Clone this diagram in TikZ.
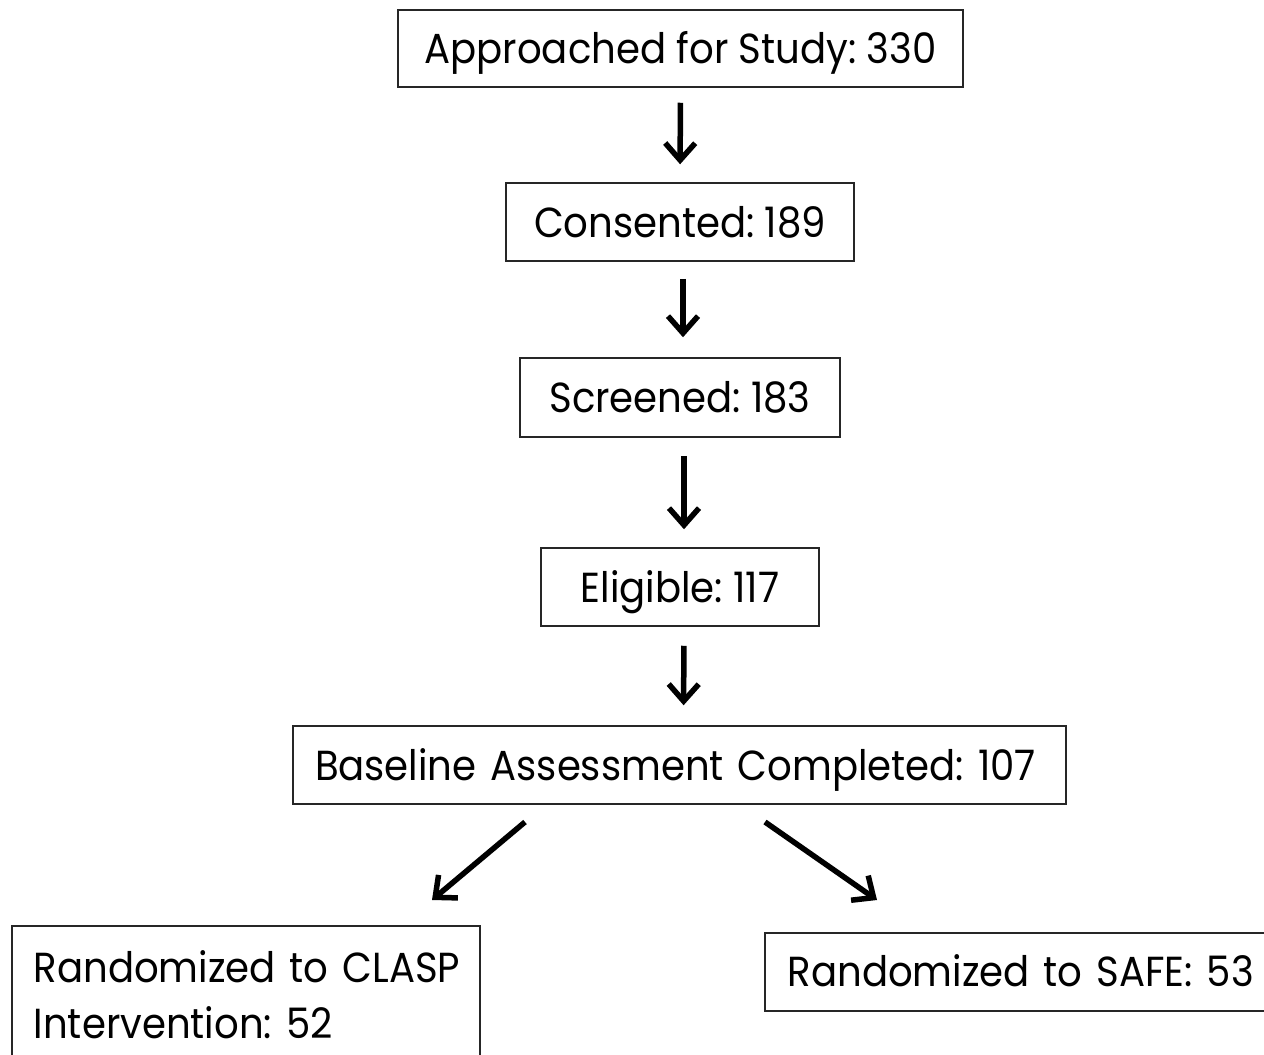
\documentclass[tikz,border=0pt]{standalone}
\usepackage{fontspec}
\setmainfont{Poppins}[FakeStretch=0.92]
\frenchspacing
\usetikzlibrary{arrows.meta}
\begin{document}
\begin{tikzpicture}[x=1pt,y=-1pt,
  box/.style={draw=black!85,line width=1.5pt,inner sep=0pt,text height=30pt,text depth=0pt,font=\fontsize{42}{56}\selectfont\frenchspacing},
  arr/.style={line width=5.5pt,-{Straight Barb[length=17pt,width=30pt,line width=5.5pt]}}]
\useasboundingbox[fill=white] (0,0) rectangle (1264,1055);
\node[box,minimum width=565,minimum height=77] (b1) at (680.5,48.5) {Approached for Study: 330};
\node[box,minimum width=348,minimum height=78] (b2) at (680,222) {Consented: 189};
\node[box,minimum width=320,minimum height=79] (b3) at (680,397.5) {Screened: 183};
\node[box,minimum width=278,minimum height=78] (b4) at (680,587) {Eligible: 117};
\node[box,minimum width=773,minimum height=78,text width=729,align=left,inner xsep=22] (b5) at (679.5,765) {\mbox{Baseline Assessment Completed: 107}};
\node[box,anchor=north west,text width=424,text depth=95pt,inner xsep=22,inner ysep=27] (b6) at (11,925) {\parbox[t]{424pt}{\raggedright\mbox{Randomized to CLASP}\\Intervention: 52}};
\node[box,anchor=north west,minimum width=540,minimum height=78,text width=500,align=left,inner xsep=23] (b7) at (764,932) {\mbox{Randomized to SAFE: 53}};
\draw[arr,shorten <=15pt,shorten >=18pt] (b1.south) -- (b2.north);
\draw[arr,shorten <=17pt,shorten >=20pt] ([xshift=3pt]b2.south) -- ([xshift=3pt]b3.north);
\draw[arr,shorten <=18pt,shorten >=18pt] ([xshift=4pt]b3.south) -- ([xshift=4pt]b4.north);
\draw[arr,shorten <=19pt,shorten >=20pt] ([xshift=4pt]b4.south) -- ([xshift=4pt]b5.north);
\coordinate (l0) at (525,822); \coordinate (l1) at (432,900);
\coordinate (r0) at (765,822); \coordinate (r1) at (877,900);
\draw[arr] (l0) -- (l1);
\draw[arr] (r0) -- (r1);
\end{tikzpicture}
\end{document}
